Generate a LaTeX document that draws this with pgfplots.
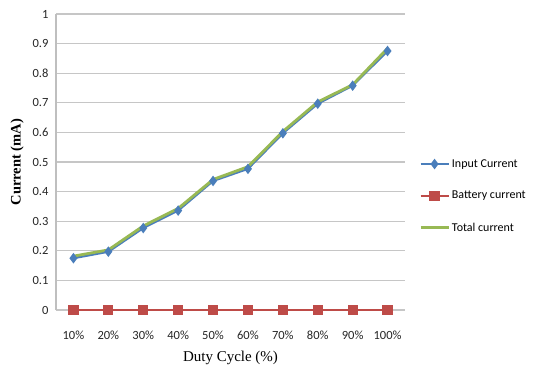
\documentclass[border=0pt]{standalone}
\usepackage{fontspec}
\setmainfont{Carlito}
\newfontfamily\serif{Liberation Serif}
\usepackage{pgfplots}
\pgfplotsset{compat=1.18}
\definecolor{cblue}{HTML}{4A7EBB}
\definecolor{cred}{HTML}{BE4B48}
\definecolor{cgreen}{HTML}{98B954}
\begin{document}
\begin{tikzpicture}
\begin{axis}[
  at={(0pt,0pt)}, anchor=south west,
  scale only axis, width=349pt, height=296pt,
  xmin=-0.5, xmax=9.5, ymin=0, ymax=1,
  xtick={0,...,9},
  xticklabels={10\%,20\%,30\%,40\%,50\%,60\%,70\%,80\%,90\%,100\%},
  ytick={0,0.1,...,1},
  yticklabels={0,0.1,0.2,0.3,0.4,0.5,0.6,0.7,0.8,0.9,1},
  axis line style={draw=none},
  axis x line*=bottom, axis y line*=left,
  ymajorgrids, grid style={gray!45, line width=1.2pt},
  major tick length=0pt,
  tick label style={font=\fontsize{12.5}{13}\selectfont, text=black!85},
  xticklabel style={yshift=-17pt},
  yticklabel style={xshift=-4pt},
  xlabel={\serif Duty Cycle (\%)},
  ylabel={\serif\bfseries Current (mA)},
  xlabel style={font=\fontsize{15}{16}\selectfont, yshift=-5pt},
  ylabel style={font=\fontsize{14.5}{15}\selectfont, yshift=2pt},
  clip=false,
  legend style={at={(1.04,0.385)}, anchor=west, draw=none, fill=none,
    font=\fontsize{12}{13}\selectfont, row sep=18.5pt, inner sep=0pt,
    cells={anchor=west}},
  legend cell align=left,
  legend image code/.code={\draw[mark repeat=2,mark phase=2] plot coordinates {(0pt,0pt)(14pt,0pt)(28pt,0pt)};},
]
\draw[gray!50, line width=1.2pt] (axis cs:-0.5,0) -- (axis cs:-0.5,1);
\addplot[cblue, line width=2.2pt, mark=diamond*, mark size=3.5pt, mark options={fill=cblue}]
  coordinates {(0,0.175)(1,0.197)(2,0.277)(3,0.336)(4,0.436)(5,0.477)(6,0.597)(7,0.697)(8,0.758)(9,0.875)};
\addlegendentry{Input Current}
\addplot[cred, line width=2.2pt, mark=square*, mark size=4pt, mark options={fill=cred}]
  coordinates {(0,0)(1,0)(2,0)(3,0)(4,0)(5,0)(6,0)(7,0)(8,0)(9,0)};
\addlegendentry{Battery current}
\addplot[cgreen, line width=2.8pt]
  coordinates {(0,0.182)(1,0.203)(2,0.284)(3,0.343)(4,0.441)(5,0.484)(6,0.603)(7,0.703)(8,0.761)(9,0.884)};
\addlegendentry{Total current}
\end{axis}
\path[use as bounding box] (-56pt,-66pt) rectangle (478pt,310pt);
\end{tikzpicture}
\end{document}
